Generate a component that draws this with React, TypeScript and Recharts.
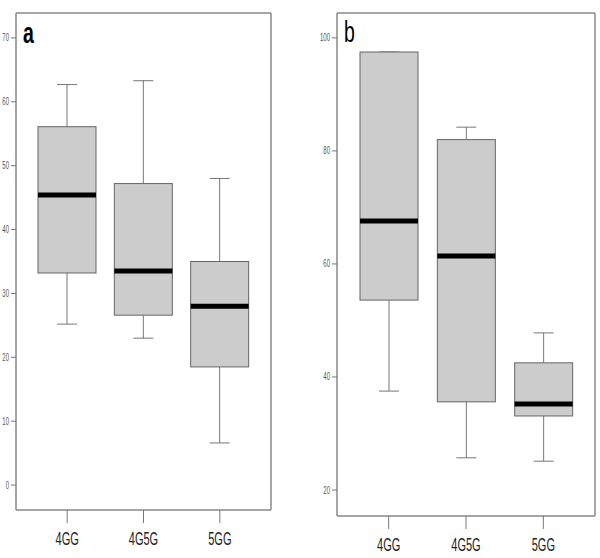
import { ComposedChart, Bar, XAxis, YAxis, Customized } from "recharts";

const categories = ["4GG", "4G5G", "5GG"];

// panel a
const aMin = [25.2, 23.0, 6.6];
const aQ1 = [33.2, 26.6, 18.5];
const aMed = [45.4, 33.5, 28.0];
const aQ3 = [56.1, 47.2, 35.0];
const aMax = [62.7, 63.3, 48.0];
const aTicks = [0, 10, 20, 30, 40, 50, 60, 70];

// panel b
const bMin = [37.5, 25.7, 25.1];
const bQ1 = [53.6, 35.6, 33.1];
const bMed = [67.6, 61.4, 35.2];
const bQ3 = [97.5, 82.0, 42.5];
const bMax = [97.5, 84.2, 47.8];
const bTicks = [20, 40, 60, 80, 100];

const build = (mn: number[], q1: number[], md: number[], q3: number[], mx: number[]) =>
  categories.map((name, i) => ({
    name,
    range: [mn[i], mx[i]],
    min: mn[i],
    q1: q1[i],
    med: md[i],
    q3: q3[i],
    max: mx[i]
  }));

const dataA = build(aMin, aQ1, aMed, aQ3, aMax);
const dataB = build(bMin, bQ1, bMed, bQ3, bMax);

const BoxShape = (props: any) => {
  const { x, y, width, height, payload } = props;
  const top = Math.min(y, y + height);
  const bottom = Math.max(y, y + height);
  const span = payload.max - payload.min || 1;
  const py = (v: number) => bottom - ((v - payload.min) / span) * (bottom - top);
  const cx = x + width / 2;
  const cap = 10;
  return (
    <g>
      <line x1={cx} x2={cx} y1={py(payload.max)} y2={py(payload.q3)} stroke="#777" strokeWidth={1} />
      <line x1={cx - cap} x2={cx + cap} y1={py(payload.max)} y2={py(payload.max)} stroke="#777" strokeWidth={1} />
      <line x1={cx} x2={cx} y1={py(payload.q1)} y2={py(payload.min)} stroke="#777" strokeWidth={1} />
      <line x1={cx - cap} x2={cx + cap} y1={py(payload.min)} y2={py(payload.min)} stroke="#777" strokeWidth={1} />
      <rect
        x={x}
        y={py(payload.q3)}
        width={width}
        height={py(payload.q1) - py(payload.q3)}
        fill="#cccccc"
        stroke="#666"
        strokeWidth={1}
      />
      <line x1={x} x2={x + width} y1={py(payload.med)} y2={py(payload.med)} stroke="#000" strokeWidth={5} />
    </g>
  );
};

const XTick = ({ x, y, payload }: any) => (
  <g transform={`translate(${x},${y}) scale(0.58,1)`}>
    <text x={0} y={20} textAnchor="middle" fontSize={19} fill="#222" fontFamily="Liberation Sans, Arial, sans-serif">
      {payload.value}
    </text>
  </g>
);

const YTick = ({ x, y, payload }: any) => (
  <g transform={`translate(${x},${y}) scale(0.6,1)`}>
    <text x={0} y={3.5} textAnchor="end" fontSize={10} fill="#555" fontFamily="Liberation Sans, Arial, sans-serif">
      {payload.value}
    </text>
  </g>
);

const frame = { stroke: "#888", strokeWidth: 1.5 };

function Panel({ data, domain, ticks, label, yWidth, right, xHeight, bold }: any) {
  return (
    <ComposedChart
      width={300}
      height={558}
      data={data}
      margin={{ top: 12, right: right - 1, bottom: 0, left: 0 }}
    >
      <XAxis
        dataKey="name"
        height={xHeight}
        padding={{ left: 13, right: 13 }}
        axisLine={frame}
        tickLine={{ stroke: "#777" }}
        tickSize={13}
        tick={<XTick />}
      />
      <XAxis
        xAxisId="top"
        dataKey="name"
        orientation="top"
        height={1}
        tick={false}
        tickLine={false}
        axisLine={frame}
      />
      <YAxis
        type="number"
        domain={domain}
        allowDataOverflow
        ticks={ticks}
        width={yWidth}
        axisLine={frame}
        tickLine={{ stroke: "#777" }}
        tickSize={5}
        tick={<YTick />}
      />
      <YAxis
        yAxisId="right"
        orientation="right"
        type="number"
        domain={domain}
        allowDataOverflow
        width={1}
        tick={false}
        tickLine={false}
        axisLine={frame}
      />
      <Bar dataKey="range" barSize={58} shape={<BoxShape />} isAnimationActive={false} />
      <Customized
        component={() => (
          <g transform={`translate(${yWidth + 7},${label === "a" ? 43 : 42}) scale(0.65,1)`}>
            <text x={0} y={0} fontSize={30} fontWeight={bold ? "bold" : "normal"} fill="#000" fontFamily="Liberation Sans, Arial, sans-serif">
              {label}
            </text>
          </g>
        )}
      />
    </ComposedChart>
  );
}

export default function App() {
  return (
    <div style={{ position: "absolute", left: 0, top: 0, width: 600, height: 558, background: "#fff" }}>
      <div style={{ position: "absolute", left: 0, top: 0 }}>
        <Panel data={dataA} domain={[-3.9, 73.9]} ticks={aTicks} label="a" yWidth={16} right={29} xHeight={48} bold />
      </div>
      <div style={{ position: "absolute", left: 300, top: 0 }}>
        <Panel data={dataB} domain={[15.4, 104.4]} ticks={bTicks} label="b" yWidth={37} right={5} xHeight={42} bold={false} />
      </div>
    </div>
  );
}
